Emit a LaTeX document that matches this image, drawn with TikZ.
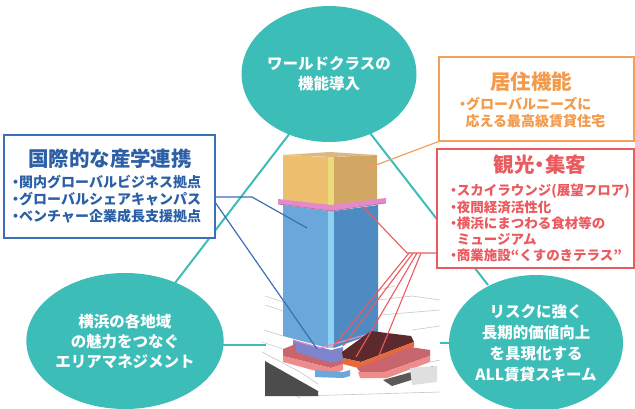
\documentclass[tikz,border=0pt]{standalone}
\usepackage{fontspec}
\setmainfont{Noto Sans CJK JP}
\usetikzlibrary{shapes.geometric}
\definecolor{tealc}{HTML}{3DBDB8}
\definecolor{bluec}{HTML}{3D6FB6}
\definecolor{bluet}{HTML}{2B5FA6}
\definecolor{orc}{HTML}{F5A05A}
\definecolor{ort}{HTML}{F39A4B}
\definecolor{redc}{HTML}{EB5A5F}
\definecolor{goldL}{HTML}{EDBF6E}
\definecolor{goldH}{HTML}{E9DB7A}
\definecolor{goldR}{HTML}{D2A663}
\definecolor{bandc}{HTML}{E48ACB}
\definecolor{blueL}{HTML}{6AA7DB}
\definecolor{blueH}{HTML}{8ED2F2}
\definecolor{blueR}{HTML}{4F8BC3}
\definecolor{violc}{HTML}{7E85CC}
\definecolor{brownc}{HTML}{5C2A2C}
\definecolor{oredge}{HTML}{E86A3A}
\definecolor{pinkc}{HTML}{EE8B8B}
\definecolor{pinkd}{HTML}{C9656C}
\newcommand\bul{\kern-0.25em・\kern-0.25em}
\tikzset{
  circ/.style={ellipse, fill=tealc, minimum width=174pt, minimum height=136pt, inner sep=0pt,
    text=white, align=center, font=\fontsize{15.5}{20}\selectfont\bfseries},
  tline/.style={tealc, line width=2pt},
  boxb/.style={draw=bluec, line width=1.2pt, fill=white, minimum width=211pt, minimum height=103pt, inner sep=0pt},
  boxo/.style={draw=orc, line width=1.2pt, fill=white, minimum width=195pt, minimum height=84pt, inner sep=0pt},
  boxr/.style={draw=redc, line width=1.2pt, fill=white, minimum width=197pt, minimum height=119pt, inner sep=0pt},
  ttl/.style={font=\fontsize{20.5}{24}\selectfont\bfseries, inner sep=0pt},
  itm/.style={font=\fontsize{14}{17}\selectfont\bfseries, align=left, inner sep=0pt, anchor=north west},
  cb/.style={bluec, line width=1.2pt},
  co/.style={orc, line width=1.2pt},
  cr/.style={redc, line width=1.1pt},
  mapl/.style={gray!45, line width=0.6pt}
}
\begin{document}
\begin{tikzpicture}[x=1pt,y=-1pt]
\useasboundingbox (0,0) rectangle (635,408);

% teal connecting lines
\coordinate (tA) at (290,133);
\coordinate (tB) at (175,283);
\coordinate (tC) at (370,133);
\coordinate (tD) at (488,285);
\coordinate (tE) at (212,345);
\coordinate (tF) at (266,345);
\coordinate (tG) at (440,343);
\coordinate (tH) at (450,343);
\draw[tline] (tA) -- (tB);
\draw[tline] (tC) -- (tD);
\draw[tline] (tE) -- (tF);
\draw[tline] (tG) -- (tH);

% faint map lines
\draw[mapl] (265,296) -- (283,302);
\draw[mapl] (265,305) -- (283,311);
\draw[mapl] (264,330) -- (283,336);
\draw[mapl] (262,342) -- (283,349);
\draw[mapl] (262,352) -- (300,372) -- (318,384);
\draw[mapl] (266,378) -- (300,398);
\draw[mapl] (378,300) -- (412,296) -- (440,300);
\draw[mapl] (380,315) -- (440,310);
\draw[mapl] (412,330) -- (440,326);
\draw[mapl] (430,362) -- (440,360);
\draw[mapl] (300,396) -- (440,392);
\draw[mapl] (378,290) -- (395,286);

% dark ground bottom-left
\fill[black!70] (265,361) -- (318,391) -- (318,396) -- (265,396) -- cycle;

% gold top block
\fill[goldR!80!white] (283,155) -- (330,152) -- (377,155) -- (332,157) -- cycle;
\fill[goldL] (283,155) -- (328,157) -- (328,207) -- (283,201) -- cycle;
\fill[goldH] (328,157) -- (334,157) -- (334,207) -- (328,207) -- cycle;
\fill[goldR] (334,157) -- (377,155) -- (377,200) -- (334,207) -- cycle;

% blue tower
\fill[blueL] (283,205) -- (328,211) -- (328,348) -- (283,336) -- cycle;
\fill[blueH] (328,211) -- (334,211) -- (334,348) -- (328,348) -- cycle;
\fill[blueR] (334,211) -- (378,205) -- (378,332) -- (334,348) -- cycle;

% top band
\fill[bandc] (278,199) -- (331,205) -- (386,198) -- (386,203) -- (331,211) -- (278,204) -- cycle;
\draw[bandc!70!black, line width=0.5pt] (278,204) -- (331,211) -- (386,203);

% base: violet section
\fill[violc] (293,340) -- (331,350) -- (343,347) -- (343,362) -- (331,366) -- (293,355) -- cycle;
\draw[bandc, line width=1.2pt] (293,340) -- (320,348) -- (372,333);
% left pink slab
\fill[pinkd] (283,349) -- (296,344) -- (296,352) -- (331,363) -- (343,360) -- (343,364) -- (331,368) -- (283,356) -- cycle;
\fill[pinkc] (283,356) -- (331,368) -- (343,364) -- (343,370) -- (331,375) -- (283,362) -- cycle;
% blue stub below
\fill[blueL] (315,370) -- (343,372) -- (350,370) -- (350,376) -- (343,378) -- (315,377) -- cycle;
% dark brown slab
\fill[brownc] (342,352) -- (371,331) -- (411,336) -- (414,342) -- (361,362) -- (343,358) -- cycle;
\fill[oredge] (343,358) -- (361,362) -- (414,342) -- (414,347) -- (362,369) -- (343,364) -- cycle;
% lower right pink slab
\fill[pinkd] (357,368) -- (410,347) -- (430,350) -- (430,356) -- (385,372) -- (360,372) -- cycle;
\fill[pinkc] (358,372) -- (385,372) -- (430,356) -- (430,362) -- (387,378) -- (360,378) -- cycle;
% road
\fill[black!65] (383,380) -- (433,366) -- (437,372) -- (392,386) -- cycle;
\fill[gray!25] (410,368) -- (437,366) -- (437,382) -- (412,385) -- cycle;

% circles
\node[circ] (ctop) at (329,74) {ワールドクラスの\\機能導入};
\node[circ] (cleft) at (125,341) {横浜の各地域\\の魅力をつなぐ\\エリアマネジメント};
\node[circ, font=\fontsize{15.5}{21}\selectfont\bfseries] (cright) at (536,343) {リスクに強く\\長期的価値向上\\を具現化する\\ALL賃貸スキーム};

% boxes
\node[boxb] (lbox) at (109.5,186.5) {};
\node[ttl, text=bluet] (ltitle) at (110,159) {国際的な産学連携};
\node[itm, text=bluet] (litems) at (12,175) {\bul 関内グローバルビジネス拠点\\\bul グローバルシェアキャンパス\\\bul ベンチャー企業成長支援拠点};

\node[boxo] (obox) at (536.5,99) {};
\node[ttl, text=ort] (otitle) at (531,82) {居住機能};
\node[itm, text=ort] (oitems) at (459,97) {\bul グローバルニーズに\\\hspace{0.45em}応える最高級賃貸住宅};

\node[boxr] (rbox) at (535.5,208.5) {};
\node[ttl, text=redc] (rtitle) at (540,165) {観光\kern-0.25em・\kern-0.25em集客};
\node[itm, text=redc, font=\fontsize{13.5}{16.3}\selectfont\bfseries] (ritems) at (450,184) {\bul スカイラウンジ(展望フロア)\\\bul 夜間経済活性化\\\bul 横浜にまつわる食材等の\\\hspace{0.5em}ミュージアム\\\bul 商業施設“くすのきテラス”};

% connectors to the building
\coordinate (gtop) at (368,168);
\coordinate (bj) at (252,197);
\coordinate (bt1) at (307,228);
\coordinate (bt2) at (317,349);
\coordinate (rj) at (407,253);
\coordinate (rt0) at (363,207);
\coordinate (rs1) at (409,253);
\coordinate (rs2) at (413,253);
\coordinate (rs3) at (417,253);
\coordinate (rs4) at (421,253);
\coordinate (re1) at (333,347);
\coordinate (re2) at (343,346);
\coordinate (re3) at (356,357);
\coordinate (re4) at (373,370);

\draw[co] (obox.south west) -- (gtop);
\draw[cb] ([yshift=-10.5pt]lbox.east) -- (bj) -- (bt1);
\draw[cb] ([yshift=-16.5pt]lbox.east) -- (bt2);
\draw[cr] ([yshift=-44.5pt]rbox.west) -- (rj) -- (rt0);
\draw[cr] (rs1) -- (re1);
\draw[cr] (rs2) -- (re2);
\draw[cr] (rs3) -- (re3);
\draw[cr] (rs4) -- (re4);
\end{tikzpicture}
\end{document}
